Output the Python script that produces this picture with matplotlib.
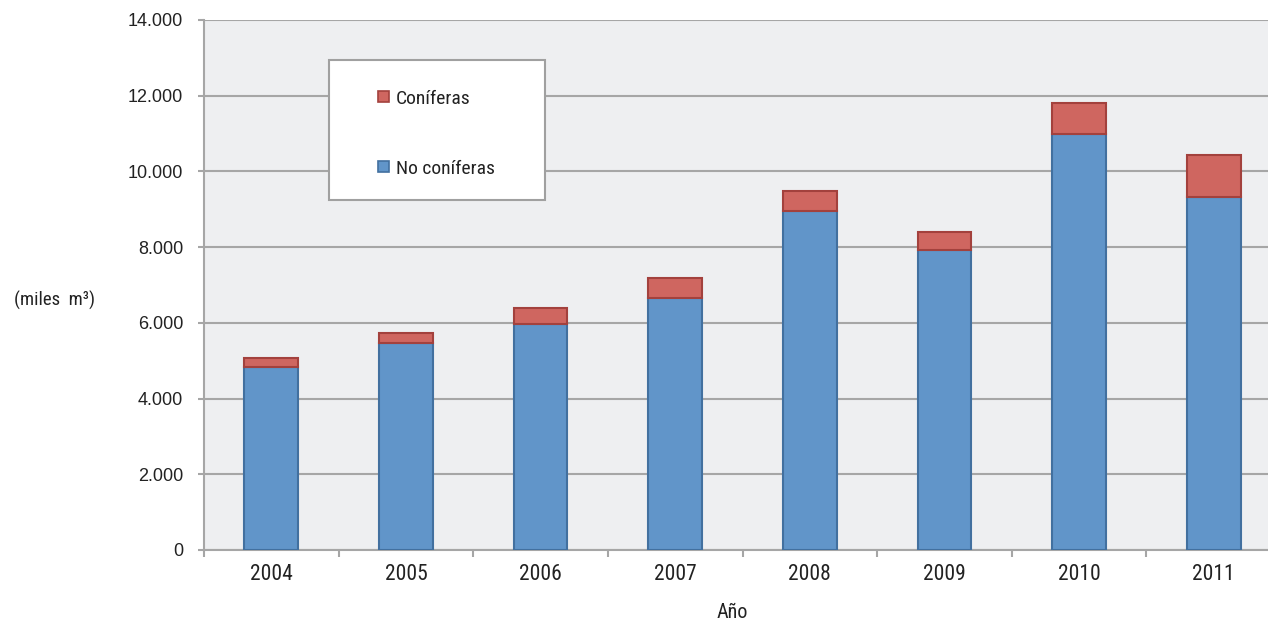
import matplotlib
matplotlib.use("Agg")
import matplotlib.pyplot as plt
import numpy as np
from matplotlib.patches import Rectangle

years = ["2004", "2005", "2006", "2007", "2008", "2009", "2010", "2011"]
no_coniferas = [4830, 5470, 5980, 6660, 8950, 7920, 11000, 9330]
coniferas = [250, 250, 410, 530, 520, 470, 810, 1110]
yticks = [0, 2000, 4000, 6000, 8000, 10000, 12000, 14000]
ytick_labels = ["0", "2.000", "4.000", "6.000", "8.000", "10.000", "12.000", "14.000"]

BLUE = "#6195C9"
BLUE_E = "#42709F"
RED = "#CF6660"
RED_E = "#A3413D"
GRID = "#A6A6A6"
BG = "#EEEFF1"
TXT = "#222222"

narrow = ["Roboto Condensed", "Archivo Narrow", "Liberation Sans", "DejaVu Sans"]
regular = ["Liberation Sans", "DejaVu Sans"]

fig = plt.figure(figsize=(12.68, 6.26), dpi=100)
ax = fig.add_axes([204/1268, 1-550/626, 1077/1268, 530/626])
ax.set_facecolor(BG)

x = np.arange(len(years))
ax.bar(x, no_coniferas, width=0.40, color=BLUE, edgecolor=BLUE_E, linewidth=1.5, zorder=3)
ax.bar(x, coniferas, bottom=no_coniferas, width=0.40, color=RED, edgecolor=RED_E, linewidth=1.5, zorder=3)

ax.set_xlim(-0.5, len(years) - 0.5)
ax.set_ylim(0, 14000)
ax.set_yticks(yticks)
ax.set_yticklabels(ytick_labels, family=regular, fontsize=13, color=TXT)
ax.set_xticks(x)
ax.set_xticklabels(years, family=narrow, fontsize=15.5, color=TXT)
ax.set_xticks(np.arange(len(years) + 1) - 0.5, minor=True)
ax.tick_params(axis="x", which="major", length=0, pad=10)
ax.tick_params(axis="x", which="minor", length=5, color=GRID, width=1.5)
ax.tick_params(axis="y", length=4.5, color=GRID, width=1.5, pad=10.5)

ax.yaxis.grid(True, color=GRID, linewidth=1.5, zorder=0)
ax.set_axisbelow(True)
for s in ["top", "right"]:
    ax.spines[s].set_visible(False)
for s in ["left", "bottom"]:
    ax.spines[s].set_color(GRID)
    ax.spines[s].set_linewidth(1.5)

fig.text(55/1268, 1-300/626, "(miles  m³)", family=narrow, fontsize=13.5, color=TXT,
         ha="center", va="center")
fig.text(732/1268, 1-613/626, "Año", family=narrow, fontsize=14.5, color=TXT,
         ha="center", va="center")

# legend box
lg = Rectangle((329/1268, 1-200/626), (545-329)/1268, 140/626, transform=fig.transFigure,
               facecolor="white", edgecolor="#A0A0A0", linewidth=1.5, zorder=5)
fig.add_artist(lg)
for label, fc, ec, yc in [("Coníferas", RED, RED_E, 96), ("No coníferas", BLUE, BLUE_E, 166)]:
    sq = Rectangle((378/1268, 1-(yc+6)/626), 11/1268, 11/626, transform=fig.transFigure,
                   facecolor=fc, edgecolor=ec, linewidth=1.2, zorder=6)
    fig.add_artist(sq)
    fig.text(396/1268, 1-(yc+3)/626, label, family=narrow, fontsize=14, color=TXT,
             ha="left", va="center", zorder=7)

fig.savefig("out.png", dpi=100)
